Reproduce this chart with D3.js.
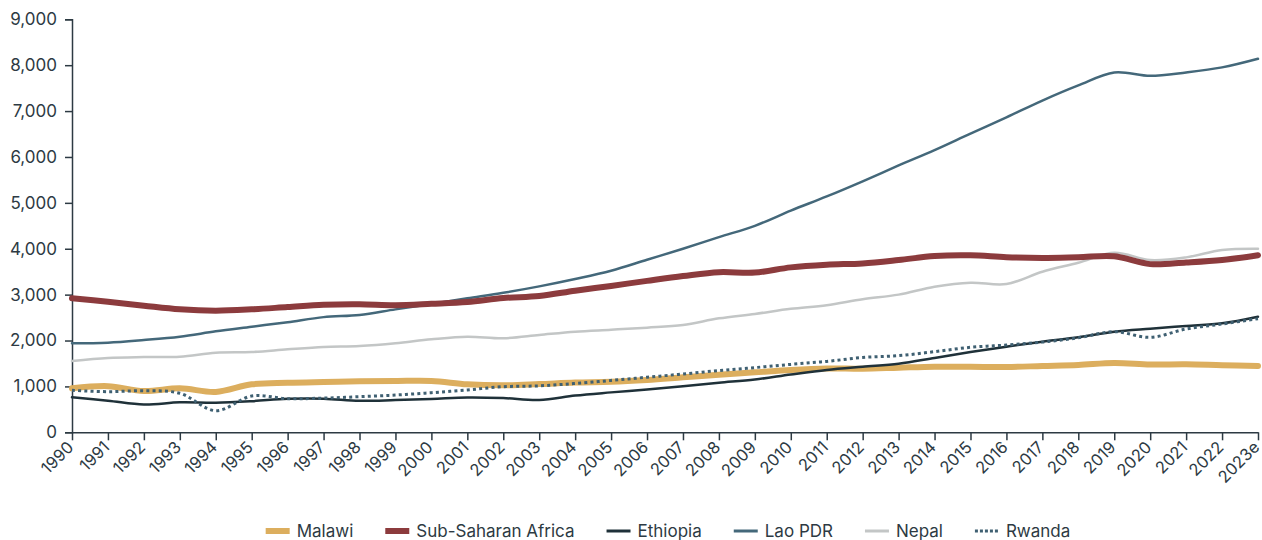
<!DOCTYPE html>
<html><head><meta charset="utf-8">
<script src="https://cdn.jsdelivr.net/npm/d3@7/dist/d3.min.js"></script>
<style>
html,body{margin:0;padding:0;background:#fff;}
svg{display:block;font-family:Inter,"Noto Sans",sans-serif;}
</style></head><body>
<svg id="c" width="1262" height="540"></svg>
<script>
const years = ["1990","1991","1992","1993","1994","1995","1996","1997","1998","1999","2000","2001","2002","2003","2004","2005","2006","2007","2008","2009","2010","2011","2012","2013","2014","2015","2016","2017","2018","2019","2020","2021","2022","2023e"];
const yTicks = [0,1000,2000,3000,4000,5000,6000,7000,8000,9000];
const malawi = [958,1005,900,958,880,1045,1078,1096,1111,1118,1120,1045,1023,1050,1085,1100,1140,1198,1256,1307,1360,1392,1385,1408,1430,1428,1423,1445,1467,1510,1478,1481,1462,1447];
const ssa = [2920,2846,2759,2679,2650,2679,2730,2780,2790,2770,2800,2839,2926,2970,3085,3190,3300,3405,3490,3480,3594,3652,3681,3754,3841,3856,3815,3800,3815,3835,3665,3700,3754,3860];
const ethiopia = [762,690,605,653,645,678,730,733,686,702,725,758,745,704,800,870,935,1005,1080,1150,1260,1360,1430,1495,1620,1750,1866,1975,2070,2193,2258,2316,2375,2519];
const lao = [1939,1953,2011,2084,2200,2300,2400,2510,2556,2679,2795,2919,3040,3180,3340,3520,3760,4000,4254,4500,4830,5140,5470,5815,6150,6510,6863,7230,7560,7843,7770,7843,7952,8140];
const nepal = [1553,1620,1640,1648,1735,1750,1808,1859,1880,1939,2026,2084,2048,2120,2192,2235,2280,2338,2483,2580,2690,2770,2900,3000,3172,3260,3231,3499,3696,3913,3754,3812,3972,4000];
const rwanda = [915,885,907,850,471,790,733,745,776,812,863,922,994,1012,1065,1130,1200,1270,1345,1410,1480,1545,1630,1670,1757,1852,1902,1965,2060,2193,2070,2251,2360,2475];
const seriesNames = ["Malawi","Sub-Saharan Africa","Ethiopia","Lao PDR","Nepal","Rwanda"];

const series = [
  {name:seriesNames[0], values:malawi, color:"#dcae5e", width:6, dash:null},
  {name:seriesNames[1], values:ssa, color:"#8c3b3d", width:6, dash:null},
  {name:seriesNames[2], values:ethiopia, color:"#1f3139", width:2.5, dash:null},
  {name:seriesNames[3], values:lao, color:"#44687a", width:2.5, dash:null},
  {name:seriesNames[4], values:nepal, color:"#c3c6c6", width:2.5, dash:null},
  {name:seriesNames[5], values:rwanda, color:"#3f6072", width:3, dash:"3,3.2"}
];

const svg = d3.select("#c");
const axisColor = "#2d3a43";
const x = d3.scalePoint().domain(years).range([72,1258]);
const y = d3.scaleLinear().domain([0,9000]).range([432.3,19.3]);

// y axis
const ya = svg.append("g").attr("transform","translate(72,0)")
  .call(d3.axisLeft(y).tickValues(yTicks).tickSize(7).tickPadding(8).tickFormat(d3.format(",")));
ya.select(".domain").attr("stroke",axisColor).attr("stroke-width",1.5);
ya.selectAll(".tick line").attr("stroke",axisColor).attr("stroke-width",1.5);
ya.selectAll("text").attr("fill",axisColor).attr("font-size",17).attr("font-family","Inter");

// x axis
const xa = svg.append("g").attr("transform","translate(0,432.3)")
  .call(d3.axisBottom(x).tickSize(8).tickSizeOuter(0));
xa.select(".domain").attr("stroke",axisColor).attr("stroke-width",1.5);
xa.selectAll(".tick line").attr("stroke",axisColor).attr("stroke-width",1.5);
xa.selectAll("text").attr("fill",axisColor).attr("font-size",16.5).attr("font-family","Inter")
  .attr("text-anchor","end").attr("dy",0).attr("y",0)
  .attr("transform","translate(2,16) rotate(-45)");

// lines
const line = d3.line().x((d,i)=>x(years[i])).y(d=>y(d)).curve(d3.curveCatmullRom.alpha(0.5));
const order = [4,3,1,0,2,5];
order.forEach(k=>{
  const s = series[k];
  const p = svg.append("path").datum(s.values).attr("d",line)
    .attr("fill","none").attr("stroke",s.color).attr("stroke-width",s.width)
    .attr("stroke-linejoin","round");
  if(s.dash){p.attr("stroke-dasharray",s.dash);} else {p.attr("stroke-linecap","round");}
});

// legend
const lg = svg.append("g");
let cx = 0;
series.forEach(s=>{
  const g = lg.append("g").attr("transform",`translate(${cx},0)`);
  const ln = g.append("line").attr("x1",0).attr("x2",24).attr("y1",0).attr("y2",0)
    .attr("stroke",s.color).attr("stroke-width",s.dash?3:(s.width>4?6:3));
  if(s.dash) ln.attr("stroke-dasharray","3,2");
  const t = g.append("text").attr("x",31).attr("y",0).attr("dy","0.35em")
    .attr("fill",axisColor).attr("font-size",17).attr("font-family","Inter").text(s.name);
  const w = t.node().getComputedTextLength();
  cx += 31 + w + 32;
});
const total = cx - 32;
lg.attr("transform",`translate(${668 - total/2},531)`);
</script>
</body></html>
